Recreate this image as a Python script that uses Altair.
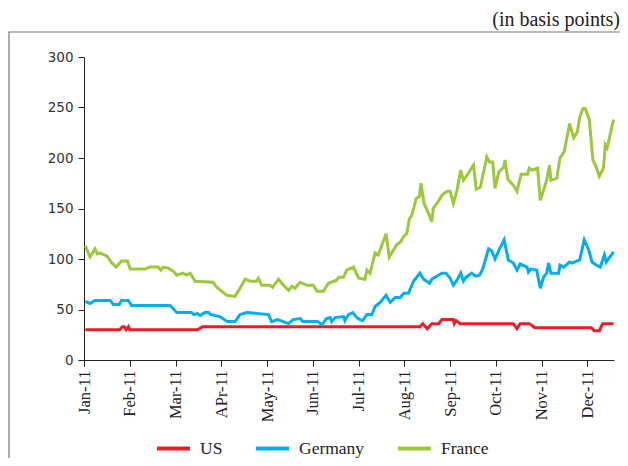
import altair as alt
import pandas as pd

# x = position in months since 1 Jan 2011 (each month tick equally spaced)
month_labels = ["Jan-11", "Feb-11", "Mar-11", "APr-11", "May-11", "Jun-11",
                "Jul-11", "Aug-11", "Sep-11", "Oct-11", "Nov-11", "Dec-11"]
series_names = ["US", "Germany", "France"]
series_colors = ["#ED1C24", "#00AEEF", "#9CC83B"]

us_t = [0.03, 0.78, 0.84, 0.88, 0.92, 0.97, 1.00, 2.48, 2.59, 7.34, 7.40, 7.50,
        7.60, 7.75, 7.82, 8.07, 8.09, 8.13, 8.22, 9.38, 9.46, 9.53, 9.73, 9.85,
        11.08, 11.15, 11.26, 11.33, 11.57]
us_v = [30, 30, 33, 33, 30, 33, 30, 30, 33, 33, 36, 31,
        36, 36, 40, 40, 36, 39, 36, 36, 31, 36, 36, 32,
        32, 29, 29, 36, 36]

de_t = [0.03, 0.13, 0.24, 0.57, 0.64, 0.77, 0.82, 0.97, 1.04, 1.88, 2.03, 2.35,
        2.40, 2.48, 2.54, 2.64, 2.72, 2.77, 2.97, 3.13, 3.30, 3.41, 3.56, 4.03,
        4.10, 4.23, 4.47, 4.57, 4.72, 4.78, 5.10, 5.20, 5.30, 5.38, 5.41, 5.49,
        5.67, 5.70, 5.78, 5.87, 5.96, 6.03, 6.09, 6.18, 6.29, 6.36, 6.47, 6.60,
        6.69, 6.80, 6.91, 6.99, 7.09, 7.20, 7.34, 7.42, 7.55, 7.60, 7.71, 7.82,
        7.91, 8.00, 8.07, 8.15, 8.23, 8.29, 8.35, 8.47, 8.55, 8.64, 8.71, 8.84,
        8.91, 8.98, 9.08, 9.18, 9.27, 9.38, 9.46, 9.53, 9.68, 9.71, 9.76, 9.89,
        9.97, 10.04, 10.11, 10.15, 10.20, 10.37, 10.40, 10.48, 10.61, 10.66, 10.83, 10.93,
        11.02, 11.10, 11.19, 11.28, 11.37, 11.41, 11.57]
de_v = [58, 56, 59, 59, 55, 55, 59, 59, 54, 54, 47, 47,
        45, 46, 44, 47, 47, 45, 43, 38, 38, 45, 47, 45,
        38, 40, 36, 40, 41, 38, 38, 35, 41, 42, 38, 42,
        43, 39, 45, 47, 42, 40, 39, 45, 45, 53, 57, 64,
        57, 62, 62, 66, 66, 78, 86, 80, 76, 80, 83, 86,
        86, 81, 74, 79, 86, 78, 82, 86, 83, 84, 90, 110,
        108, 100, 110, 119, 99, 96, 89, 95, 92, 87, 90, 89,
        71, 82, 86, 96, 86, 86, 94, 92, 97, 96, 99, 119,
        110, 97, 94, 92, 104, 97, 107]

fr_t = [0.03, 0.13, 0.24, 0.29, 0.35, 0.44, 0.50, 0.61, 0.70, 0.82, 0.95, 1.01,
        1.33, 1.44, 1.62, 1.68, 1.73, 1.84, 1.95, 2.03, 2.16, 2.24, 2.32, 2.43,
        2.82, 2.90, 3.12, 3.30, 3.41, 3.52, 3.63, 3.77, 3.81, 3.88, 4.07, 4.12,
        4.25, 4.36, 4.47, 4.54, 4.61, 4.72, 4.87, 5.01, 5.09, 5.23, 5.34, 5.52,
        5.56, 5.67, 5.74, 5.89, 6.00, 6.14, 6.18, 6.25, 6.36, 6.43, 6.60, 6.67,
        6.83, 6.92, 6.98, 7.05, 7.11, 7.16, 7.26, 7.33, 7.36, 7.43, 7.50, 7.60,
        7.63, 7.74, 7.82, 7.93, 8.00, 8.07, 8.15, 8.23, 8.29, 8.34, 8.51, 8.57,
        8.66, 8.80, 8.86, 8.93, 8.98, 9.06, 9.17, 9.20, 9.26, 9.38, 9.46, 9.55,
        9.69, 9.73, 9.79, 9.91, 9.97, 10.11, 10.17, 10.20, 10.33, 10.40, 10.49, 10.61,
        10.70, 10.78, 10.83, 10.90, 10.95, 11.04, 11.12, 11.19, 11.26, 11.35, 11.39, 11.43,
        11.57]
fr_v = [113, 102, 110, 105, 106, 104, 103, 96, 92, 98, 98, 90,
        90, 92, 92, 89, 92, 91, 88, 84, 86, 84, 86, 78,
        77, 72, 64, 63, 71, 80, 78, 78, 81, 74, 74, 72,
        80, 74, 69, 73, 71, 77, 74, 74, 68, 68, 76, 79,
        82, 82, 89, 92, 81, 80, 89, 86, 106, 104, 125, 102,
        114, 117, 122, 125, 140, 143, 160, 162, 175, 155, 148, 137,
        150, 157, 163, 167, 167, 155, 168, 188, 178, 181, 193, 169,
        171, 201, 196, 196, 170, 186, 191, 198, 179, 173, 167, 184,
        184, 190, 188, 190, 158, 178, 193, 178, 180, 200, 206, 234,
        220, 226, 240, 249, 249, 238, 198, 191, 182, 190, 213, 210,
        238]

rows = []
for name, ts, vs in [("US", us_t, us_v), ("Germany", de_t, de_v), ("France", fr_t, fr_v)]:
    for t, v in zip(ts, vs):
        rows.append({"series": name, "t": t, "value": v})
df = pd.DataFrame(rows)

label_expr = "[" + ",".join("'" + m + "'" for m in month_labels) + "][datum.value]"

lines = alt.Chart(df).mark_line(strokeWidth=3).encode(
    x=alt.X("t:Q", scale=alt.Scale(domain=[0, 11.58], nice=False, zero=False),
            axis=alt.Axis(values=list(range(12)), labelExpr=label_expr, labelAngle=270,
                          title=None, grid=False, labelFont="Liberation Serif",
                          labelFontSize=16.5, labelColor="#222", tickSize=6,
                          labelPadding=4, domainColor="#222", tickColor="#222")),
    y=alt.Y("value:Q", scale=alt.Scale(domain=[0, 300], nice=False),
            axis=alt.Axis(values=[0, 50, 100, 150, 200, 250, 300], title=None, grid=False,
                          labelFont="DejaVu Sans", labelFontSize=13.5, labelColor="#333",
                          tickSize=6, labelPadding=5, domainColor="#222", tickColor="#222")),
    color=alt.Color("series:N", scale=alt.Scale(domain=series_names, range=series_colors),
                    legend=alt.Legend(title=None, orient="none", legendX=71, legendY=373,
                                      direction="horizontal", symbolType="stroke",
                                      symbolStrokeWidth=4, symbolSize=1089,
                                      labelFont="Liberation Serif", labelFontSize=17.5,
                                      labelColor="#222", columnPadding=25, labelOffset=8,
                                      padding=0)),
    order=alt.Order("t:Q"),
)

frame = alt.Chart(pd.DataFrame({"k": [0]})).mark_rect(
    fillOpacity=0, stroke="#777", strokeWidth=1.2
).encode(x=alt.value(-75), x2=alt.value(560), y=alt.value(-25), y2=alt.value(420))

note = alt.Chart(pd.DataFrame({"k": [0]})).mark_text(
    text="(in basis points)", align="right", baseline="alphabetic",
    font="Liberation Serif", fontSize=20, color="#222"
).encode(x=alt.value(536), y=alt.value(-31))

chart = alt.layer(frame, lines, note).properties(
    width=530, height=303,
    autosize=alt.AutoSizeParams(type="none"),
    padding={"left": 76, "top": 49, "right": 6, "bottom": 98},
).configure_view(stroke=None)

chart.save("out.html", embed_options={"renderer": "svg", "actions": False})
